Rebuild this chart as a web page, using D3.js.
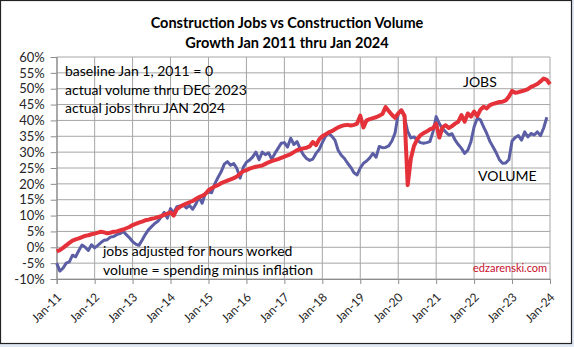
<!DOCTYPE html>
<html><head><meta charset="utf-8">
<script src="https://cdn.jsdelivr.net/npm/d3@7"></script>
<style>
html,body{margin:0;padding:0;background:#dfe8f3;}
svg{display:block;}
text{font-family:Lato,"Open Sans",sans-serif;}
</style></head>
<body>
<svg id="chart" width="574" height="347"></svg>
<script>
const titleLines = ["Construction Jobs vs Construction Volume", "Growth Jan 2011 thru Jan 2024"];
const xTickLabels = ["Jan-11","Jan-12","Jan-13","Jan-14","Jan-15","Jan-16","Jan-17","Jan-18","Jan-19","Jan-20","Jan-21","Jan-22","Jan-23","Jan-24"];
const yTicks = [-10,-5,0,5,10,15,20,25,30,35,40,45,50,55,60];
const notesTop = ["baseline Jan 1, 2011 = 0","actual volume thru DEC 2023","actual jobs thru JAN 2024"];
const notesBottom = ["jobs adjusted for hours worked","volume = spending minus inflation"];
// monthly values, % growth since Jan 2011 (Jan 2011 .. Jan 2024)
const jobs = [
 -1.3,-0.9,-0.2,0.6,1.4,2.1,2.5,2.8,3.2,3.6,3.8,4.1,
 4.3,4.6,4.9,4.7,4.4,4.6,4.9,5.0,5.3,5.6,6.0,6.4,
 7.0,7.4,7.8,8.1,8.5,8.7,9.0,9.2,9.5,9.8,10.2,10.6,
 11.0,10.0,12.0,12.8,13.3,13.8,14.2,14.6,15.2,15.8,16.2,16.8,
 18.0,18.6,19.2,19.6,20.2,20.6,21.0,21.4,21.8,22.3,23.2,24.0,
 24.3,24.8,25.1,25.4,25.6,25.8,26.3,26.8,27.2,27.5,27.8,28.2,
 28.6,29.0,29.4,30.0,30.6,30.9,31.2,31.4,31.8,33.2,32.2,34.0,
 35.0,35.6,36.2,36.6,37.2,37.8,38.2,38.5,38.6,38.4,38.6,39.0,
 41.5,37.8,40.0,40.4,40.7,41.0,41.5,42.0,44.2,43.0,41.8,40.8,
 42.2,43.2,41.5,19.6,28.0,32.0,34.0,35.3,36.0,36.5,37.2,37.6,
 39.0,34.6,37.8,38.5,37.6,38.2,39.0,39.6,41.7,39.6,42.2,41.2,
 42.8,41.4,43.4,44.3,43.8,44.8,45.2,45.5,45.8,45.9,46.3,47.5,
 49.3,48.7,48.9,49.2,49.5,49.9,50.6,51.0,51.5,52.3,53.2,52.8,
 51.4
];
// monthly values (Jan 2011 .. Dec 2023)
const volume = [
 -5.0,-7.5,-6.6,-5.0,-4.6,-2.5,-3.0,-1.0,0.7,0.0,-1.0,0.8,
 -0.2,0.6,1.5,2.2,2.4,3.2,3.4,4.0,4.3,5.0,4.0,3.0,
 1.8,1.0,0.6,2.2,4.0,5.5,6.5,7.5,8.2,9.5,11.0,9.2,
 12.2,10.8,12.8,13.0,13.4,12.4,13.2,12.0,13.6,15.8,13.9,17.0,
 17.4,17.2,20.0,22.0,23.8,26.2,27.0,25.9,26.4,24.8,21.8,25.2,
 26.8,27.5,28.5,30.0,27.6,30.0,29.2,29.8,27.8,29.6,31.2,32.8,
 33.0,31.6,34.4,32.4,33.3,31.0,29.2,28.0,27.4,27.8,29.6,30.8,
 33.0,35.0,36.0,35.0,33.8,30.6,29.0,28.0,26.5,25.2,23.5,22.8,
 25.0,26.5,27.2,28.2,29.6,28.4,31.8,31.4,31.5,32.0,33.5,36.0,
 42.0,43.3,41.0,36.5,34.5,34.8,33.8,33.0,32.8,33.0,33.3,36.4,
 41.2,39.0,37.4,36.4,35.4,35.8,33.8,32.4,31.2,29.6,30.6,33.3,
 38.0,40.7,40.2,38.0,35.9,33.4,31.6,29.8,27.6,26.5,26.6,27.6,
 33.5,34.6,35.2,33.8,36.4,34.8,35.9,35.4,36.4,35.2,37.6,41.0
];

const svg = d3.select("#chart");
const L = 56.7, R = 550, T = 57, B = 279;
const x = d3.scaleLinear().domain([0, 156]).range([L, R]);
const y = d3.scaleLinear().domain([-10, 60]).range([B, T]);

// chart area background & border
svg.append("rect").attr("x",0.5).attr("y",0.5).attr("width",571).attr("height",343)
  .attr("fill","#fff").attr("stroke","#222").attr("stroke-width",1.2);

// gridlines
const g = svg.append("g");
g.selectAll("line.h").data(yTicks).join("line")
  .attr("x1",L).attr("x2",R).attr("y1",d=>y(d)).attr("y2",d=>y(d))
  .attr("stroke","#a6a6a6").attr("stroke-width",1);
const xTickIdx = xTickLabels.map((d,i)=>i*12);
g.selectAll("line.v").data(xTickIdx).join("line")
  .attr("x1",d=>x(d)).attr("x2",d=>x(d)).attr("y1",T).attr("y2",B)
  .attr("stroke","#a6a6a6").attr("stroke-width",1);

// axes
const yAxis = d3.axisLeft(y).tickValues(yTicks).tickSize(6).tickPadding(6).tickFormat(d=>d+"%");
const ya = svg.append("g").attr("transform",`translate(${L},0)`).call(yAxis);
ya.select(".domain").attr("stroke","#8c8c8c");
ya.selectAll(".tick line").attr("stroke","#8c8c8c");
ya.selectAll("text").attr("font-size",13).attr("fill","#262626").attr("font-family","Lato");

const xAxis = d3.axisBottom(x).tickValues(xTickIdx).tickSize(5).tickFormat((d,i)=>xTickLabels[i]);
const xa = svg.append("g").attr("transform",`translate(0,${B})`).call(xAxis);
xa.select(".domain").attr("stroke","#8c8c8c");
xa.selectAll(".tick line").attr("stroke","#8c8c8c");
xa.selectAll("text").attr("font-size",12).attr("fill","#262626").attr("font-family","Lato")
  .attr("text-anchor","end").attr("dy",null).attr("y",null)
  .attr("transform","translate(5,19) rotate(-45)");

// lines
const line = d3.line().x((d,i)=>x(i)).y(d=>y(d));
svg.append("path").datum(volume).attr("d",line).attr("fill","none")
  .attr("stroke","#5b5ea4").attr("stroke-width",3).attr("stroke-linejoin","round");
svg.append("path").datum(jobs).attr("d",line).attr("fill","none")
  .attr("stroke","#e5323a").attr("stroke-width",4).attr("stroke-linejoin","round");

// title
svg.append("g").selectAll("text").data(titleLines).join("text")
  .attr("x",287).attr("y",(d,i)=>28+i*20).attr("text-anchor","middle")
  .attr("font-size",14.5).attr("font-weight","bold").attr("fill","#000").text(d=>d);

// notes
svg.append("g").selectAll("text").data(notesTop).join("text")
  .attr("x",65).attr("y",(d,i)=>76+i*18.5).attr("font-size",14).attr("fill","#000").text(d=>d);
svg.append("g").selectAll("text").data(notesBottom).join("text")
  .attr("x",103).attr("y",(d,i)=>256+i*19).attr("font-size",14).attr("fill","#000").text(d=>d);

svg.append("text").attr("x",463).attr("y",86.5).attr("font-size",14).text("JOBS");
svg.append("text").attr("x",478).attr("y",181).attr("font-size",14).text("VOLUME");
svg.append("text").attr("x",473).attr("y",272).attr("font-size",11).attr("fill","#c8102e").text("edzarenski.com");
</script>
</body></html>
